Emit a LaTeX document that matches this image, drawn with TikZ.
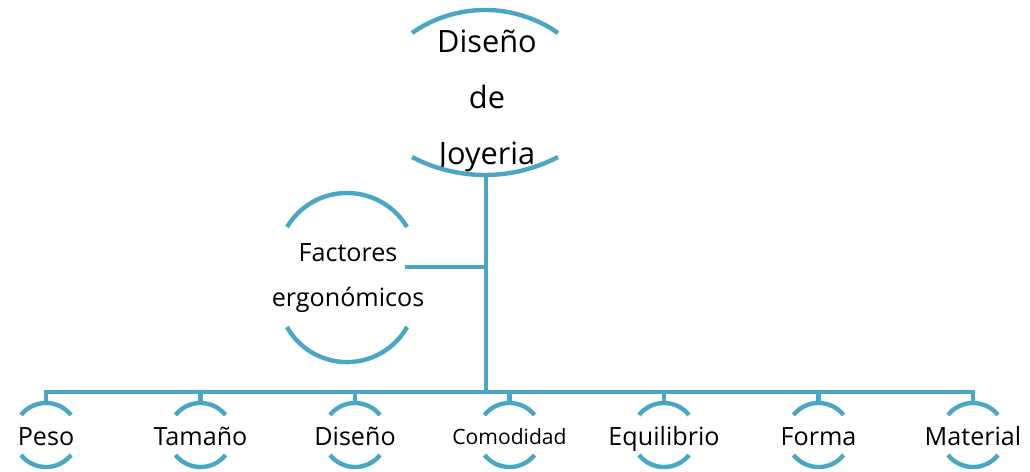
\documentclass[tikz,border=0pt]{standalone}
\usepackage{fontspec}
\setmainfont{Open Sans}
\usepackage{tikz}
\definecolor{capblue}{RGB}{75,166,196}

\begin{document}
\begin{tikzpicture}[x=0.02cm, y=0.02cm,
  ln/.style={draw=capblue, line width=2.5pt},
  big/.style={font=\fontsize{17.5}{31.7}\selectfont, align=center},
  mid/.style={font=\fontsize{14.3}{25.5}\selectfont, align=center},
  small/.style={font=\fontsize{14.3}{17}\selectfont, anchor=base}]
  \useasboundingbox (0,0) rectangle (1030,471);
  % root
  \node[big] (dj) at (487,370) {Diseño\\de\\Joyeria};
  \draw[ln] (558,438) arc[start angle=55, end angle=125, radius=127.3];
  \draw[ln] (412,314) arc[start angle=242.3, end angle=297.7, radius=157];
  \coordinate (dj-b) at (486,296);
  % factores
  \node[mid] (fact) at (348,193) {Factores\\ergonómicos};
  \draw[ln] (407,244) arc[start angle=30.9, end angle=149.1, radius=69.9];
  \draw[ln] (287,144) arc[start angle=209.4, end angle=330.6, radius=68.9];
  \coordinate (fact-r) at (405,204);
  % bar
  \coordinate (bar) at (486,79);
  \draw[ln] (dj-b) -- (bar);
  \draw[ln] (fact-r) -- (fact-r -| dj-b);
  % children
  \node[small] (peso) at (46,26) {Peso};
  \draw[ln] (71,56) arc[start angle=38.6, end angle=141.4, radius=32];
  \draw[ln] (21,16) arc[start angle=218.6, end angle=321.4, radius=32];
  \coordinate (peso-t) at (46,68);
  \draw[ln] (bar) -| (peso-t);
  \node[small] (tam) at (200.5,26) {Tamaño};
  \draw[ln] (225.5,56) arc[start angle=38.6, end angle=141.4, radius=32];
  \draw[ln] (175.5,16) arc[start angle=218.6, end angle=321.4, radius=32];
  \coordinate (tam-t) at (200.5,68);
  \draw[ln] (bar) -| (tam-t);
  \node[small] (dis) at (355,26) {Diseño};
  \draw[ln] (380,56) arc[start angle=38.6, end angle=141.4, radius=32];
  \draw[ln] (330,16) arc[start angle=218.6, end angle=321.4, radius=32];
  \coordinate (dis-t) at (355,68);
  \draw[ln] (bar) -| (dis-t);
  \node[small, font=\fontsize{12}{14}\selectfont] (com) at (509.5,27) {Comodidad};
  \draw[ln] (534.5,56) arc[start angle=38.6, end angle=141.4, radius=32];
  \draw[ln] (484.5,16) arc[start angle=218.6, end angle=321.4, radius=32];
  \coordinate (com-t) at (509.5,68);
  \draw[ln] (bar) -| (com-t);
  \node[small] (equi) at (664,26) {Equilibrio};
  \draw[ln] (689,56) arc[start angle=38.6, end angle=141.4, radius=32];
  \draw[ln] (639,16) arc[start angle=218.6, end angle=321.4, radius=32];
  \coordinate (equi-t) at (664,68);
  \draw[ln] (bar) -| (equi-t);
  \node[small] (forma) at (818.5,26) {Forma};
  \draw[ln] (843.5,56) arc[start angle=38.6, end angle=141.4, radius=32];
  \draw[ln] (793.5,16) arc[start angle=218.6, end angle=321.4, radius=32];
  \coordinate (forma-t) at (818.5,68);
  \draw[ln] (bar) -| (forma-t);
  \node[small] (mat) at (973,26) {Material};
  \draw[ln] (998,56) arc[start angle=38.6, end angle=141.4, radius=32];
  \draw[ln] (948,16) arc[start angle=218.6, end angle=321.4, radius=32];
  \coordinate (mat-t) at (973,68);
  \draw[ln] (bar) -| (mat-t);
\end{tikzpicture}
\end{document}
